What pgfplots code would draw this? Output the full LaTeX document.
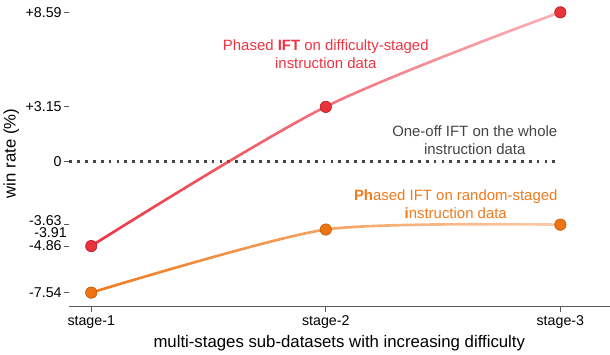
\documentclass[border=0pt]{standalone}
\usepackage{fontspec}
\setmainfont{Liberation Sans}
\usepackage{pgfplots}
\pgfplotsset{compat=1.18}
\usetikzlibrary{fadings}

\definecolor{redline}{HTML}{EE3442}
\definecolor{redmark}{HTML}{E8323C}
\definecolor{rededge}{HTML}{B81C26}
\definecolor{orline}{HTML}{F07A1E}
\definecolor{ormark}{HTML}{EE7413}
\definecolor{oredge}{HTML}{C05800}
\definecolor{zerogray}{HTML}{444444}

\tikzfading[name=linefade, left color=transparent!0, right color=transparent!62]

\begin{document}
\begin{tikzpicture}
\begin{axis}[
    scale only axis,
    width=532pt, height=302pt,
    xmin=0.905, xmax=3.21,
    ymin=-8.36, ymax=9.3,
    axis x line*=bottom, axis y line*=left,
    y axis line style={draw=none},
    x axis line style={draw=black!65, line width=0.8pt},
    xtick={1,2,3},
    xticklabels={stage-1,stage-2,stage-3},
    ytick={-7.54,-4.86,-3.63,0,3.15,8.59},
    yticklabels={-7.54,-4.86,\raisebox{4.5pt}[\height][\depth]{-3.63},0,+3.15,+8.59},
    extra y ticks={-3.91},
    extra y tick labels={\raisebox{-3pt}[\height][\depth]{-3.91}},
    extra y tick style={major tick length=0pt},
    tick align=outside,
    major tick length=5pt,
    tick style={black!65, line width=0.8pt},
    ticklabel style={font=\fontsize{14}{14}\selectfont},
    yticklabel style={inner sep=2pt},
    xlabel={multi-stages sub-datasets with increasing difficulty},
    ylabel={win rate (\%)},
    label style={font=\fontsize{16.5}{17}\selectfont},
    ylabel style={yshift=-4pt},
    clip=false,
]
% zero reference
\addplot[zerogray, line width=2.6pt, dash pattern=on 2.8pt off 5pt] coordinates {(0.905,0) (3,0)};

% curves
\addplot[redline, line width=2.6pt, smooth, path fading=linefade] coordinates {
    (1,-4.86) (2,3.15) (3,8.59)};
\addplot[orline, line width=2.6pt, smooth, tension=0.4, path fading=linefade] coordinates {
    (1,-7.54) (2,-3.91) (3,-3.63)};

% markers
\addplot[only marks, mark=*, mark size=5.6pt, mark options={fill=redmark, draw=rededge, line width=0.6pt}] coordinates {
    (1,-4.86) (2,3.15) (3,8.59)};
\addplot[only marks, mark=*, mark size=5.6pt, mark options={fill=ormark, draw=oredge, line width=0.6pt}] coordinates {
    (1,-7.54) (2,-3.91) (3,-3.63)};

% annotations
\node[align=center, text=redline, font=\fontsize{14.7}{18}\selectfont] at (axis cs:2.0,6.2)
    {Phased \textbf{IFT} on difficulty-staged\\instruction data};
\node[align=center, text=zerogray, font=\fontsize{14.7}{18}\selectfont] at (axis cs:2.635,1.23)
    {One-off IFT on the whole\\instruction data};
\node[align=center, text=orline, font=\fontsize{14.7}{18}\selectfont] at (axis cs:2.554,-2.46)
    {\textbf{Ph}ased IFT on random-staged\\\textbf{i}nstruction data};
\end{axis}
\end{tikzpicture}
\end{document}
